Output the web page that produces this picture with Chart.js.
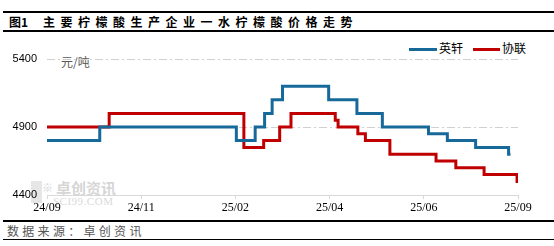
<!DOCTYPE html>
<html>
<head>
<meta charset="utf-8">
<script src="https://cdn.jsdelivr.net/npm/chart.js@4.4.1/dist/chart.umd.min.js"></script>
<style>
  body { margin: 0; background: #fff; }
  #wrap { position: relative; width: 554px; height: 246px; overflow: hidden; font-family: "Noto Sans CJK SC", sans-serif; }
  #chart { position: absolute; left: 0; top: 0; z-index: 2; }
  .rule { position: absolute; left: 3px; right: 0; background: #000; }
  .txt { position: absolute; white-space: nowrap; line-height: 1; }
  .key { position: absolute; height: 3px; }
</style>
</head>
<body>
<div id="wrap">
  <div class="rule" style="top:11px;height:2px"></div>
  <div class="rule" style="top:30px;height:2px"></div>
  <div class="txt" style="left:9px;top:16px;font-size:12px;font-weight:700">图1</div>
  <div class="txt" style="left:43px;top:16px;font-size:12px;font-weight:700;letter-spacing:5.5px">主要柠檬酸生产企业一水柠檬酸价格走势</div>

  <div class="txt" style="left:61px;top:56px;font-size:12px;color:#595959">元/吨</div>

  <div class="key" style="left:409px;top:48px;width:28px;background:#17699a"></div>
  <div class="txt" style="left:439px;top:42px;font-size:12px">英轩</div>
  <div class="key" style="left:473px;top:48px;width:27px;background:#c00000"></div>
  <div class="txt" style="left:502px;top:42px;font-size:12px">协联</div>

  <!-- watermark -->
  <div class="txt" style="left:31px;top:181px;width:11px;height:22px;background:#e6e6e6"></div>
  <div class="txt" style="left:42px;top:182px;font-size:11px;color:#d4d4d4">※</div>
  <div class="txt" style="left:56px;top:180px;font-size:15px;font-weight:700;color:#d6d6d6">卓创资讯</div>
  <div class="txt" style="left:53px;top:196px;font-size:11px;color:#d9d9d9;font-family:'Liberation Serif',serif;letter-spacing:0.5px">SCI99.COM</div>

  <canvas id="chart" width="554" height="246"></canvas>

  <div class="rule" style="top:220px;height:2px"></div>
  <div class="txt" style="left:7px;top:225px;font-size:12px;color:#555;letter-spacing:3.3px">数据来源：卓创资讯</div>
  <div class="rule" style="top:239px;height:1px"></div>
</div>
<script>
// x axis: label slots (each unit = one label interval)
const xLabels = ["24/09", "24/11", "25/02", "25/04", "25/06", "25/09"];

// 英轩: step points (position on axis, price from that point on)
const yxX = [0, 0.56, 2.01, 2.21, 2.31, 2.39, 2.50, 2.99, 3.29, 3.56, 4.05, 4.25, 4.55, 4.90, 4.92];
const yxY = [4800, 4900, 4800, 4900, 5000, 5100, 5200, 5100, 5000, 4900, 4850, 4800, 4750, 4700, 4700];

// 协联
const xlX = [0, 0.66, 2.09, 2.30, 2.47, 2.59, 3.06, 3.09, 3.30, 3.38, 3.64, 4.13, 4.34, 4.64, 4.99, 5.0];
const xlY = [4900, 5000, 4750, 4800, 4900, 5000, 4950, 4900, 4850, 4800, 4700, 4650, 4600, 4550, 4500, 4500];

const yTicks = [4400, 4900, 5400];

function toPoints(xs, ys) {
    return xs.map(function(x, i) { return { x: x, y: ys[i] }; });
}

new Chart(document.getElementById("chart"), {
    type: "line",
    data: {
        datasets: [{
            label: "英轩",
            data: toPoints(yxX, yxY),
            borderColor: "#17699a",
            borderWidth: 3,
            pointRadius: 0,
            stepped: "before"
        }, {
            label: "协联",
            data: toPoints(xlX, xlY),
            borderColor: "#c00000",
            borderWidth: 3,
            pointRadius: 0,
            stepped: "before"
        }]
    },
    options: {
        responsive: false,
        animation: false,
        devicePixelRatio: 1,
        layout: { padding: { left: 0, right: 36, top: 59, bottom: 0 } },
        plugins: { legend: { display: false }, tooltip: { enabled: false } },
        scales: {
            x: {
                type: "linear",
                min: 0,
                max: xLabels.length - 1,
                afterBuildTicks: function(axis) {
                    axis.ticks = xLabels.map(function(_, i) { return { value: i }; });
                },
                afterFit: function(axis) { axis.height = 51; },
                grid: { drawOnChartArea: false, drawTicks: true, tickLength: 4, color: "#d9d9d9" },
                border: { display: true, color: "#d9d9d9", width: 1 },
                ticks: {
                    autoSkip: false,
                    maxRotation: 0,
                    padding: 2,
                    color: "#000",
                    font: { family: "Liberation Serif", size: 12 },
                    callback: function(v) { return xLabels[v]; }
                }
            },
            y: {
                min: 4400,
                max: 5400,
                afterBuildTicks: function(axis) {
                    axis.ticks = yTicks.map(function(v) { return { value: v }; });
                },
                afterFit: function(axis) { axis.width = 47; },
                grid: {
                    drawTicks: false,
                    color: function(ctx) { return ctx.tick.value === 4400 ? "rgba(0,0,0,0)" : "#d0d0d0"; }
                },
                border: { display: false, dash: [8, 3, 2, 3] },
                ticks: {
                    padding: 10,
                    color: "#000",
                    font: { family: "Liberation Sans", size: 11 },
                    callback: function(v) { return String(v); }
                }
            }
        }
    }
});
</script>
</body>
</html>
